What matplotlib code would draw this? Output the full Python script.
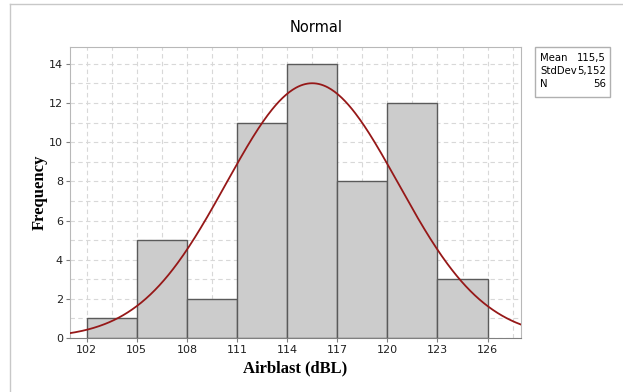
import matplotlib
matplotlib.use("Agg")
import matplotlib.pyplot as plt
import numpy as np
from matplotlib.lines import Line2D

# histogram bins and counts
bin_edges = [102, 105, 108, 111, 114, 117, 120, 123, 126]
counts = [1, 5, 2, 11, 14, 8, 12, 3]

# fitted normal parameters (as shown in the stats box)
mean = 115.5
std_dev = 5.152
n_obs = 56
stat_labels = ["Mean", "StdDev", "N"]
stat_values = ["115,5", "5,152", "56"]

x_ticks = [102, 105, 108, 111, 114, 117, 120, 123, 126]
y_ticks = [0, 2, 4, 6, 8, 10, 12, 14]

W, H = 623, 392
fig = plt.figure(figsize=(W / 100, H / 100), dpi=100)
ax = fig.add_axes([70 / W, 1 - 338 / H, (521 - 70) / W, (338 - 47) / H])

# grid (major + minor, dashed)
ax.set_xticks(np.arange(102, 129, 1.5), minor=True)
ax.set_yticks(np.arange(0, 15, 1), minor=True)
ax.grid(True, which="both", color="#d8d8d8", linestyle=(0, (4, 3)), linewidth=0.8)
ax.set_axisbelow(True)

widths = np.diff(bin_edges)
ax.bar(bin_edges[:-1], counts, width=widths, align="edge",
       color="#cccccc", edgecolor="#5a5a5a", linewidth=1.0, zorder=2)

xs = np.linspace(100.9, 128.1, 400)
scale = n_obs * widths[0]
ys = scale / (std_dev * np.sqrt(2 * np.pi)) * np.exp(-0.5 * ((xs - mean) / std_dev) ** 2)
ax.plot(xs, ys, color="#961818", linewidth=1.3, zorder=3)

ax.set_xlim(101.0, 128.0)
ax.set_ylim(0, 14.86)
ax.set_xticks(x_ticks)
ax.set_yticks(y_ticks)
ax.tick_params(axis="both", which="major", labelsize=8, length=3,
               color="#808080", labelcolor="#202020", pad=2)
ax.tick_params(axis="both", which="minor", length=0)
for side in ["top", "right", "left"]:
    ax.spines[side].set_color("#b8b8b8")
ax.spines["bottom"].set_color("#808080")

ax.set_xlabel("Airblast (dBL)", family="Liberation Serif", fontweight="bold",
              fontsize=12, labelpad=4)
ax.set_ylabel("Frequency", family="Liberation Serif", fontweight="bold",
              fontsize=12, labelpad=1)

fig.text(316 / W, 1 - 28 / H, "Normal", ha="center", va="center", fontsize=10.5)

# stats box
box = plt.Rectangle((535 / W, 1 - 97 / H), 75 / W, 50 / H, transform=fig.transFigure,
                    facecolor="white", edgecolor="#b0b0b0", linewidth=1.0)
fig.patches.append(box)
for i, (lab, val) in enumerate(zip(stat_labels, stat_values)):
    y = 1 - (58 + i * 13) / H
    fig.text(540 / W, y, lab, ha="left", va="center", fontsize=7.3)
    fig.text(606 / W, y, val, ha="right", va="center", fontsize=7.3)

# outer frame
fig.lines.append(Line2D([10 / W, 10 / W], [0, 1 - 4 / H], transform=fig.transFigure,
                        color="#c8c8c8", linewidth=1.0))
fig.lines.append(Line2D([10 / W, 1], [1 - 4 / H, 1 - 4 / H], transform=fig.transFigure,
                        color="#c8c8c8", linewidth=1.0))

fig.savefig("out.png", dpi=100)
